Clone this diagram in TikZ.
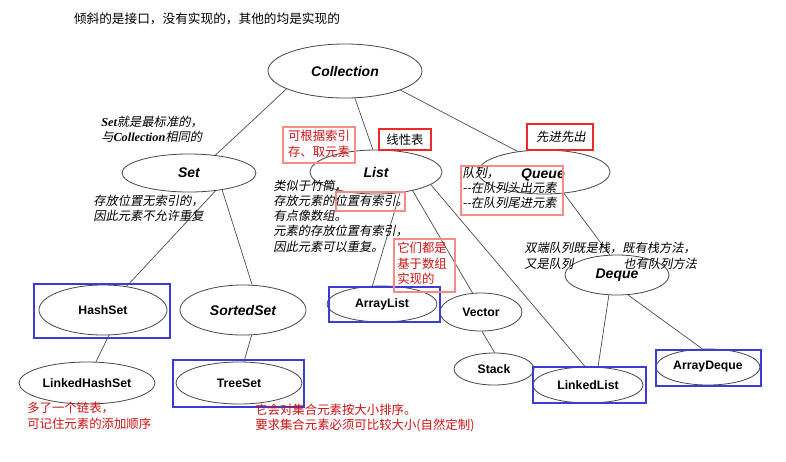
\documentclass[tikz,border=0pt]{standalone}
\usepackage{fontspec}
\setmainfont{Liberation Serif}
\newfontfamily\lsans{Liberation Sans}
\newfontfamily\cjk{Noto Sans CJK SC}
\newfontfamily\cjki[FakeSlant=0.2]{Noto Sans CJK SC}
\usetikzlibrary{shapes.geometric}
\definecolor{ellc}{RGB}{70,70,70}
\definecolor{boxblue}{RGB}{60,60,210}
\definecolor{boxred}{RGB}{240,40,40}
\definecolor{boxpink}{RGB}{245,140,140}
\definecolor{txtred}{RGB}{205,20,20}
\newcommand\lbi[1]{{\rmfamily\bfseries\itshape #1}}
\begin{document}
\begin{tikzpicture}[x=0.75pt,y=-0.75pt,
  ell/.style n args={2}{minimum width=#1*1.5pt, minimum height=#2*1.5pt},
  cls/.style={ellipse, draw=ellc, line width=0.6pt, inner sep=0pt, font=\lsans\bfseries\fontsize{9.2}{11}\selectfont},
  iface/.style={cls, font=\lsans\bfseries\itshape\fontsize{10.5}{12}\selectfont},
  conn/.style={draw=ellc, line width=0.5pt},
  note/.style={inner sep=0pt, align=left, anchor=west, font=\cjki\fontsize{9.2}{11.4}\selectfont},
  rnote/.style={inner sep=0pt, align=left, anchor=west, text=txtred, font=\cjk\fontsize{9.3}{11.7}\selectfont},
  bluebox/.style={draw=boxblue, line width=1.2pt},
  redbox/.style={draw=boxred, line width=1pt},
  pinkbox/.style={draw=boxpink, line width=0.8pt}]
\useasboundingbox (0,0) rectangle (786,461);
\fill[white] (0,0) rectangle (786,461);

% title
\node[inner sep=0pt, font=\cjk\fontsize{9.5}{11}\selectfont] (title) at (207,19) {倾斜的是接口，没有实现的，其他的均是实现的};

% ellipses
\node[iface, ell={77}{27}] (coll) at (345,71) {Collection};
\node[iface, ell={67}{19}] (set) at (189,173) {Set};
\node[iface, ell={66}{22}] (list) at (376,172) {List};
\node[iface, ell={66}{22}] (queue) at (544,172) {};
\node[font=\lsans\bfseries\itshape\fontsize{10.5}{12}\selectfont, inner sep=0pt] (queuelbl) at (543,175) {Queue};
\node[cls, ell={64}{25}] (hashset) at (103,310) {HashSet};
\node[iface, ell={63}{25}] (sortedset) at (243,310) {SortedSet};
\node[cls, ell={68}{21}] (lhs) at (87,383) {LinkedHashSet};
\node[cls, ell={63}{21}] (treeset) at (239,383) {TreeSet};
\node[cls, ell={55}{18}] (arraylist) at (382,304) {ArrayList};
\node[cls, ell={41}{19}] (vector) at (481,312) {Vector};
\node[cls, ell={40}{16}] (stack) at (494,369) {Stack};
\node[cls, ell={55}{18}] (linkedlist) at (588,385) {LinkedList};
\node[iface, ell={52}{20}] (deque) at (617,275) {Deque};
\node[cls, ell={52}{18}] (arraydeque) at (708,367) {ArrayDeque};

% connectors
\draw[conn] (coll.197) -- (set.34);
\draw[conn] (coll.-70) -- (list.98);
\draw[conn] (coll.-19) -- (queue.142);
\draw[conn] (set.-34) -- (hashset.45);
\draw[conn] (set.-27) -- (sortedset.70);
\draw[conn] (hashset.-77) -- (lhs.67);
\draw[conn] (sortedset.-71) -- (treeset.77);
\draw[conn] (list.-41) -- (arraylist.118);
\draw[conn] (list.-27) -- (vector.114);
\draw[conn] (list.-13) -- (linkedlist.99);
\draw[conn] (vector.-87) -- (stack.88);
\draw[conn] (queue.-47) -- (deque.110);
\draw[conn] (deque.248) -- (linkedlist.61);
\draw[conn] (deque.-61) -- (arraydeque.108);

% blue boxes (implementations)
\draw[bluebox] (34,284) rectangle (170,338);
\draw[bluebox] (329,287) rectangle (440,322);
\draw[bluebox] (173,360) rectangle (304,407);
\draw[bluebox] (533,367) rectangle (646,403);
\draw[bluebox] (656,350) rectangle (761,386);

% notes
\node[note] (setnote) at (101,129.5) {\lbi{Set}就是最标准的，\\与\lbi{Collection}相同的};
\node[note] (setdesc) at (93,208.5) {存放位置无索引的，\\因此元素不允许重复};
\node[note] (listdesc) at (273,216) {类似于竹筒，\\存放元素的位置有索引。\\有点像数组。\\元素的存放位置有索引，\\因此元素可以重复。};
\draw[pinkbox] (336,192) rectangle (405,211);

\draw[pinkbox] (283,127) rectangle (355,163);
\node[rnote, anchor=center, align=center] (idxnote) at (319,144) {可根据索引\\存、取元素};

\draw[redbox] (379,129) rectangle (431,150);
\node[inner sep=0pt, font=\cjk\fontsize{9.3}{11}\selectfont] (linear) at (405,139.5) {线性表};

\draw[redbox] (527,124) rectangle (593,150);
\node[inner sep=0pt, font=\cjki\fontsize{9.3}{11}\selectfont] (fifo) at (561,137) {先进先出};

\draw[pinkbox] (461,166) rectangle (563,215);
\node[note] (queuenote) at (462,188) {队列，\\-{}-在队列头出元素\\-{}-在队列尾进元素};

\draw[pinkbox] (394,239) rectangle (455,292);
\node[rnote] (arrnote) at (397,263.5) {它们都是\\基于数组\\实现的};

\node[note] (dequenote1) at (524,248) {双端队列既是栈，既有栈方法，};
\node[note] (dequenote2) at (524,263.5) {又是队列};
\node[note] (dequenote3) at (623,263.5) {也有队列方法};

\node[rnote] (lhsnote) at (27,416) {多了一个链表，\\可记住元素的添加顺序};
\node[rnote] (treenote) at (255,418) {它会对集合元素按大小排序。\\要求集合元素必须可比较大小(自然定制)};
\end{tikzpicture}
\end{document}
